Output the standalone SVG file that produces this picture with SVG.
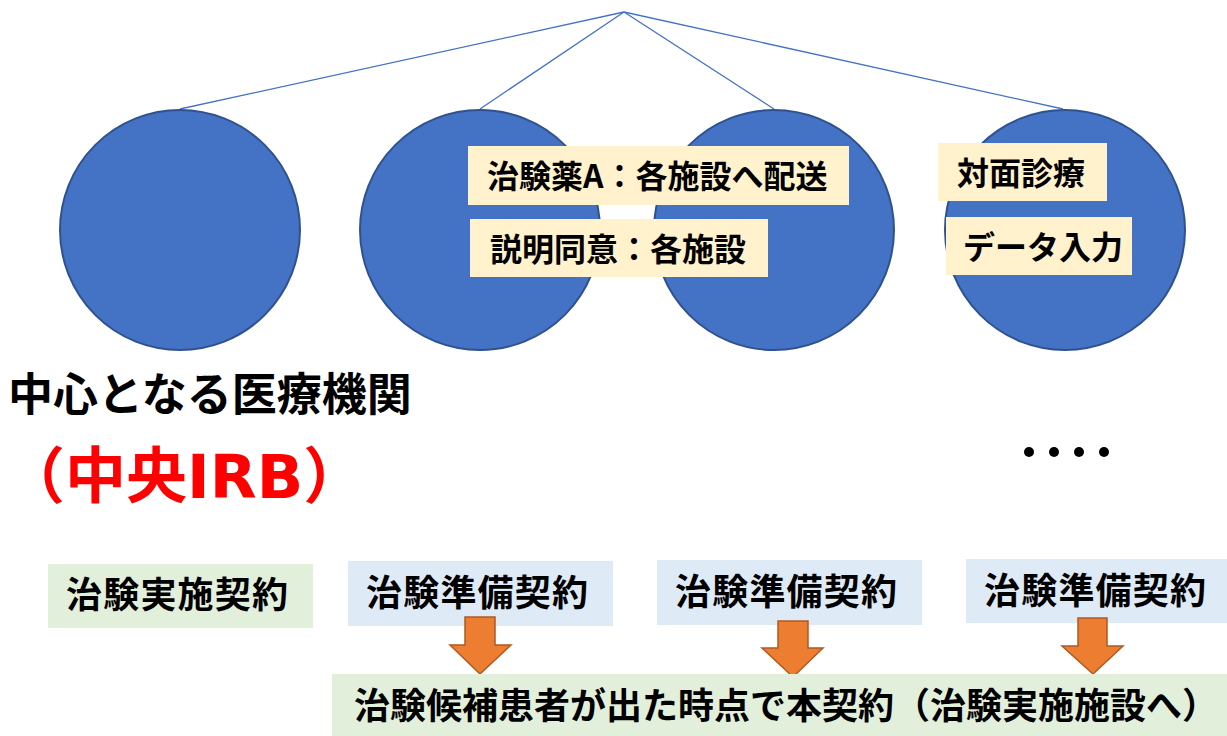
<svg xmlns="http://www.w3.org/2000/svg" width="1227" height="736" viewBox="0 0 1227 736">
<style>
.site{fill:#4472C4;stroke:#2F528F;stroke-width:2}
.conn{stroke:#4472C4;stroke-width:1.3;fill:none}
.note{fill:#FFF2CC}
.green{fill:#E2EFDA}
.blue{fill:#DEEBF7}
.arrow{fill:#ED7D31;stroke:#AE5A21;stroke-width:1.5}
text{font-family:"Noto Sans CJK JP","Noto Sans CJK SC",sans-serif;font-weight:bold;fill:#000}
.t32{font-size:32px}
.t36{font-size:36px;letter-spacing:1.2px}
</style>
<rect width="1227" height="736" fill="#fff"/>
<g id="connectors">
<line class="conn" x1="624" y1="12" x2="180" y2="109"/>
<line class="conn" x1="624" y1="12" x2="480" y2="109"/>
<line class="conn" x1="624" y1="12" x2="774" y2="109"/>
<line class="conn" x1="624" y1="12" x2="1063" y2="109"/>
</g>
<g id="site1"><circle class="site" cx="180" cy="230" r="120"/></g>
<g id="site2"><circle class="site" cx="480" cy="230" r="120"/></g>
<g id="site3"><circle class="site" cx="774" cy="230" r="120"/></g>
<g id="site4"><circle class="site" cx="1065" cy="230" r="120"/></g>
<g id="label-drug"><rect class="note" x="468" y="146" width="381" height="59"/><text class="t32" x="487" y="188">治験薬A：各施設へ配送</text></g>
<g id="label-consent"><rect class="note" x="470" y="219" width="298" height="58"/><text class="t32" x="490" y="261">説明同意：各施設</text></g>
<g id="label-visit"><rect class="note" x="938" y="143" width="169" height="58"/><text class="t32" x="957" y="185">対面診療</text></g>
<g id="label-data"><rect class="note" x="946" y="217" width="186" height="58"/><text class="t32" x="963" y="259">データ入力</text></g>
<g id="center-title"><text x="8" y="411" style="font-size:45px">中心となる医療機関</text>
<text x="4" y="498" style="font-size:61px;fill:#FF0000">（中央<tspan style="font-family:'DejaVu Sans',sans-serif">IRB</tspan>）</text></g>
<g id="ellipsis" fill="#000"><circle cx="1029" cy="452" r="5"/><circle cx="1054" cy="452" r="5"/><circle cx="1079" cy="452" r="5"/><circle cx="1104" cy="452" r="5"/></g>
<g id="contract-main"><rect class="green" x="48" y="564" width="265" height="64"/><text class="t36" x="66" y="608">治験実施契約</text></g>
<g id="prep1"><rect class="blue" x="348" y="561" width="265" height="65"/><text class="t36" x="366" y="606">治験準備契約</text></g>
<g id="prep2"><rect class="blue" x="657" y="560" width="265" height="65"/><text class="t36" x="675" y="605">治験準備契約</text></g>
<g id="prep3"><rect class="blue" x="966" y="559" width="261" height="64"/><text class="t36" x="984" y="604">治験準備契約</text></g>
<g id="arrows">
<polygon class="arrow" points="465,617 495,617 495,645 511,645 480,674 450,645 465,645"/>
<polygon class="arrow" points="778,621 808,621 808,648 823,648 793,677 762,648 778,648"/>
<polygon class="arrow" points="1078,618 1107,618 1107,646 1123,646 1093,674 1062,646 1078,646"/>
</g>
<g id="final-contract"><rect class="green" x="332" y="674" width="895" height="62"/><text style="font-size:36px" x="354" y="719">治験候補患者が出た時点で本契約（治験実施施設へ）</text></g>
</svg>
